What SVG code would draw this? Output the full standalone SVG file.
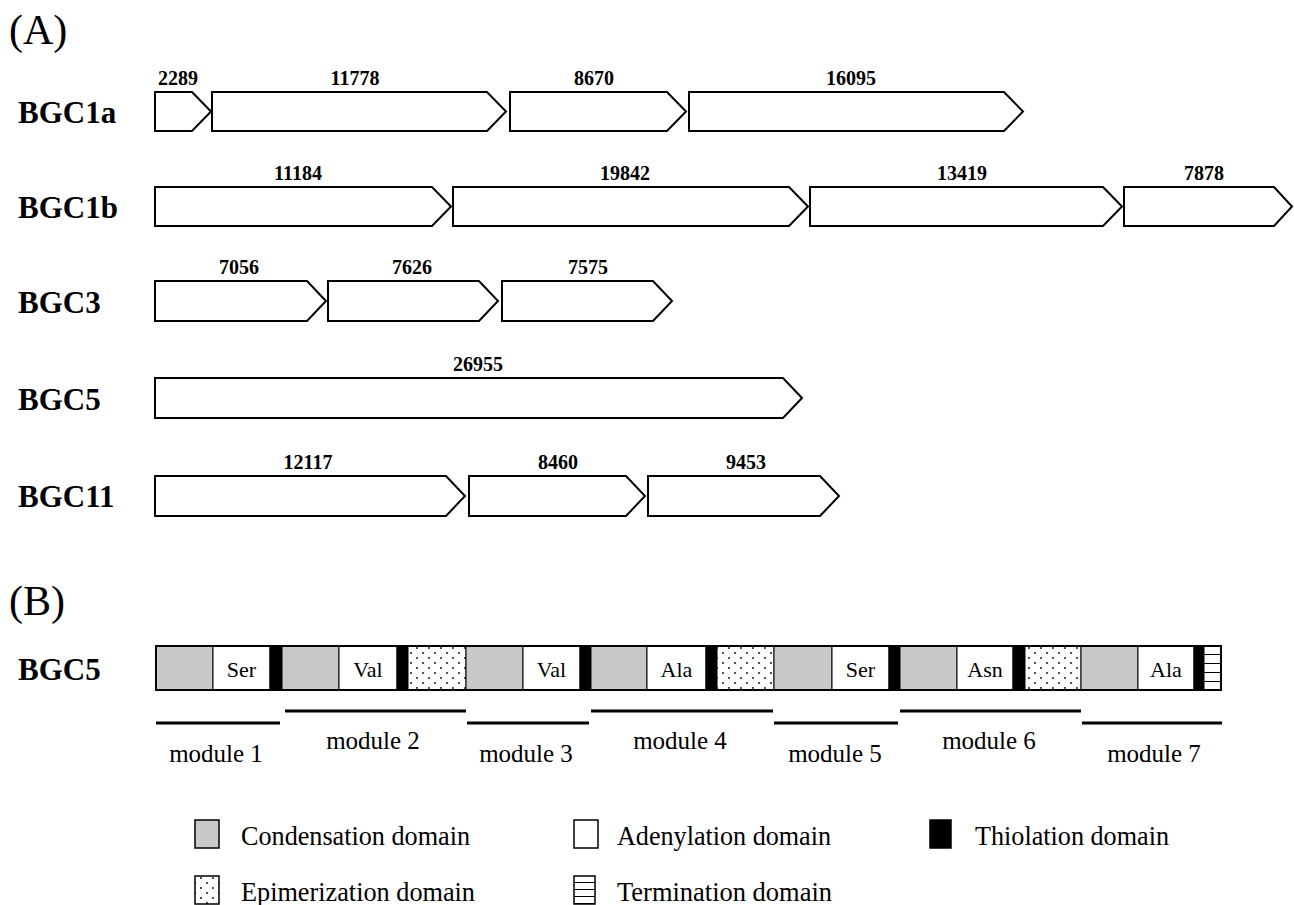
<svg xmlns="http://www.w3.org/2000/svg" width="1294" height="905" viewBox="0 0 1294 905">
<style>
.panel{font-family:"Liberation Serif","Times New Roman",serif;font-size:42px;fill:#000}
.row{font-family:"Liberation Serif","Times New Roman",serif;font-size:31px;font-weight:bold;fill:#000}
.num{font-family:"Liberation Serif","Times New Roman",serif;font-size:20px;font-weight:bold;fill:#000;text-anchor:middle}
.gene{fill:#fff;stroke:#000;stroke-width:2;stroke-linejoin:miter}
.aa{font-family:"Liberation Serif","Times New Roman",serif;font-size:22px;fill:#000;text-anchor:middle}
.mod{font-family:"Liberation Serif","Times New Roman",serif;font-size:25px;fill:#000;text-anchor:middle}
.leg{font-family:"Liberation Serif","Times New Roman",serif;font-size:27px;fill:#000}
.C{fill:#c8c8c8;stroke:#000;stroke-width:1}
.A{fill:#fff;stroke:#000;stroke-width:1}
.T{fill:#000;stroke:#000;stroke-width:1}
.E{fill:url(#dots);stroke:#000;stroke-width:1}
.Te{fill:url(#hatch);stroke:#000;stroke-width:1}
.LC{fill:#c8c8c8;stroke:#000;stroke-width:1.5}
.LA{fill:#fff;stroke:#000;stroke-width:1.5}
.LT{fill:#000;stroke:#000;stroke-width:1.5}
.LE{fill:url(#dots);stroke:#000;stroke-width:1.5}
.LTe{fill:url(#hatchLeg);stroke:#000;stroke-width:1.5}
.modline{stroke:#000;stroke-width:3}
</style>
<defs>
<pattern id="dots" patternUnits="userSpaceOnUse" width="12" height="10">
<rect width="12" height="10" fill="#fff"/>
<circle cx="3" cy="3" r="0.9" fill="#000"/>
<circle cx="9" cy="8" r="0.9" fill="#000"/>
</pattern>
<pattern id="hatch" patternUnits="userSpaceOnUse" x="0" y="646" width="20" height="9">
<rect width="20" height="9" fill="#fff"/>
<rect y="8" width="20" height="1.6" fill="#000"/>
</pattern>
<pattern id="hatchLeg" patternUnits="userSpaceOnUse" x="0" y="876" width="20" height="7">
<rect width="20" height="7" fill="#fff"/>
<rect y="6" width="20" height="1.4" fill="#000"/>
</pattern>
</defs>
<rect width="1294" height="905" fill="#fff"/>

<text class="panel" x="9" y="44">(A)</text>
<text class="panel" x="9" y="615">(B)</text>

<g id="BGC1a">
<text class="row" x="18" y="123">BGC1a</text>
<g id="BGC1a-g1"><path class="gene" d="M155 92 H192 L211 111.5 L192 131 H155 Z"/><text class="num" x="178" y="85">2289</text></g>
<g id="BGC1a-g2"><path class="gene" d="M212 92 H487 L506 111.5 L487 131 H212 Z"/><text class="num" x="355" y="85">11778</text></g>
<g id="BGC1a-g3"><path class="gene" d="M510 92 H667 L686 111.5 L667 131 H510 Z"/><text class="num" x="594" y="85">8670</text></g>
<g id="BGC1a-g4"><path class="gene" d="M689 92 H1004 L1023 111.5 L1004 131 H689 Z"/><text class="num" x="851" y="85">16095</text></g>
</g>

<g id="BGC1b">
<text class="row" x="18" y="218">BGC1b</text>
<g id="BGC1b-g1"><path class="gene" d="M155 187 H432 L451 206.5 L432 226 H155 Z"/><text class="num" x="298" y="180">11184</text></g>
<g id="BGC1b-g2"><path class="gene" d="M453 187 H789 L808 206.5 L789 226 H453 Z"/><text class="num" x="625" y="180">19842</text></g>
<g id="BGC1b-g3"><path class="gene" d="M810 187 H1103 L1122 206.5 L1103 226 H810 Z"/><text class="num" x="962" y="180">13419</text></g>
<g id="BGC1b-g4"><path class="gene" d="M1124 187 H1274 L1292 206.5 L1274 226 H1124 Z"/><text class="num" x="1204" y="180">7878</text></g>
</g>

<g id="BGC3">
<text class="row" x="18" y="313">BGC3</text>
<g id="BGC3-g1"><path class="gene" d="M155 281 H307 L326 301 L307 321 H155 Z"/><text class="num" x="239" y="274">7056</text></g>
<g id="BGC3-g2"><path class="gene" d="M328 281 H479 L498 301 L479 321 H328 Z"/><text class="num" x="412" y="274">7626</text></g>
<g id="BGC3-g3"><path class="gene" d="M502 281 H653 L672 301 L653 321 H502 Z"/><text class="num" x="588" y="274">7575</text></g>
</g>

<g id="BGC5">
<text class="row" x="18" y="410">BGC5</text>
<g id="BGC5-g1"><path class="gene" d="M155 378 H783 L802 398 L783 418 H155 Z"/><text class="num" x="478" y="371">26955</text></g>
</g>

<g id="BGC11">
<text class="row" x="18" y="507">BGC11</text>
<g id="BGC11-g1"><path class="gene" d="M155 476 H446 L465 496 L446 516 H155 Z"/><text class="num" x="308" y="469">12117</text></g>
<g id="BGC11-g2"><path class="gene" d="M469 476 H626 L645 496 L626 516 H469 Z"/><text class="num" x="558" y="469">8460</text></g>
<g id="BGC11-g3"><path class="gene" d="M648 476 H820 L839 496 L820 516 H648 Z"/><text class="num" x="746" y="469">9453</text></g>
</g>

<g id="BGC5-domains">
<text class="row" x="18" y="680">BGC5</text>
<g id="module1-domains">
<rect class="C" x="156" y="646" width="57" height="44"/>
<rect class="A" x="213" y="646" width="57" height="44"/><text class="aa" x="241.5" y="677">Ser</text>
<rect class="T" x="270" y="646" width="12" height="44"/>
</g>
<g id="module2-domains">
<rect class="C" x="282" y="646" width="57" height="44"/>
<rect class="A" x="339" y="646" width="58" height="44"/><text class="aa" x="368" y="677">Val</text>
<rect class="T" x="397" y="646" width="11" height="44"/>
<rect class="E" x="408" y="646" width="58" height="44"/>
</g>
<g id="module3-domains">
<rect class="C" x="466" y="646" width="57" height="44"/>
<rect class="A" x="523" y="646" width="57" height="44"/><text class="aa" x="551.5" y="677">Val</text>
<rect class="T" x="580" y="646" width="11" height="44"/>
</g>
<g id="module4-domains">
<rect class="C" x="591" y="646" width="56" height="44"/>
<rect class="A" x="647" y="646" width="59" height="44"/><text class="aa" x="676.5" y="677">Ala</text>
<rect class="T" x="706" y="646" width="11" height="44"/>
<rect class="E" x="717" y="646" width="57" height="44"/>
</g>
<g id="module5-domains">
<rect class="C" x="774" y="646" width="58" height="44"/>
<rect class="A" x="832" y="646" width="57" height="44"/><text class="aa" x="860.5" y="677">Ser</text>
<rect class="T" x="889" y="646" width="11" height="44"/>
</g>
<g id="module6-domains">
<rect class="C" x="900" y="646" width="57" height="44"/>
<rect class="A" x="957" y="646" width="56" height="44"/><text class="aa" x="985" y="677">Asn</text>
<rect class="T" x="1013" y="646" width="12" height="44"/>
<rect class="E" x="1025" y="646" width="56" height="44"/>
</g>
<g id="module7-domains">
<rect class="C" x="1081" y="646" width="57" height="44"/>
<rect class="A" x="1138" y="646" width="56" height="44"/><text class="aa" x="1166" y="677">Ala</text>
<rect class="T" x="1194" y="646" width="10" height="44"/>
<rect class="Te" x="1204" y="646" width="17" height="44"/>
</g>
<rect x="156" y="646" width="1065" height="44" fill="none" stroke="#000" stroke-width="2"/>
</g>

<g id="modules">
<g id="module1"><line class="modline" x1="156" y1="723" x2="280" y2="723"/><text class="mod" x="216" y="762">module 1</text></g>
<g id="module2"><line class="modline" x1="285" y1="711" x2="466" y2="711"/><text class="mod" x="373" y="749">module 2</text></g>
<g id="module3"><line class="modline" x1="467" y1="723" x2="589" y2="723"/><text class="mod" x="526" y="762">module 3</text></g>
<g id="module4"><line class="modline" x1="591" y1="711" x2="773" y2="711"/><text class="mod" x="680" y="749">module 4</text></g>
<g id="module5"><line class="modline" x1="774" y1="723" x2="898" y2="723"/><text class="mod" x="835" y="762">module 5</text></g>
<g id="module6"><line class="modline" x1="900" y1="711" x2="1081" y2="711"/><text class="mod" x="989" y="749">module 6</text></g>
<g id="module7"><line class="modline" x1="1082" y1="723" x2="1222" y2="723"/><text class="mod" x="1154" y="762">module 7</text></g>
</g>

<g id="legend">
<g id="leg-condensation"><rect class="LC" x="195" y="820" width="24" height="28"/><text class="leg" x="241" y="845" textLength="229" lengthAdjust="spacingAndGlyphs">Condensation domain</text></g>
<g id="leg-adenylation"><rect class="LA" x="574" y="820" width="24" height="28"/><text class="leg" x="617" y="845" textLength="214" lengthAdjust="spacingAndGlyphs">Adenylation domain</text></g>
<g id="leg-thiolation"><rect class="LT" x="930" y="820" width="21" height="28"/><text class="leg" x="975" y="845" textLength="194" lengthAdjust="spacingAndGlyphs">Thiolation domain</text></g>
<g id="leg-epimerization"><rect class="LE" x="195" y="876" width="24" height="28"/><text class="leg" x="241" y="901" textLength="234" lengthAdjust="spacingAndGlyphs">Epimerization domain</text></g>
<g id="leg-termination"><rect class="LTe" x="574" y="876" width="21" height="28"/><text class="leg" x="617" y="901" textLength="215" lengthAdjust="spacingAndGlyphs">Termination domain</text></g>
</g>
</svg>
